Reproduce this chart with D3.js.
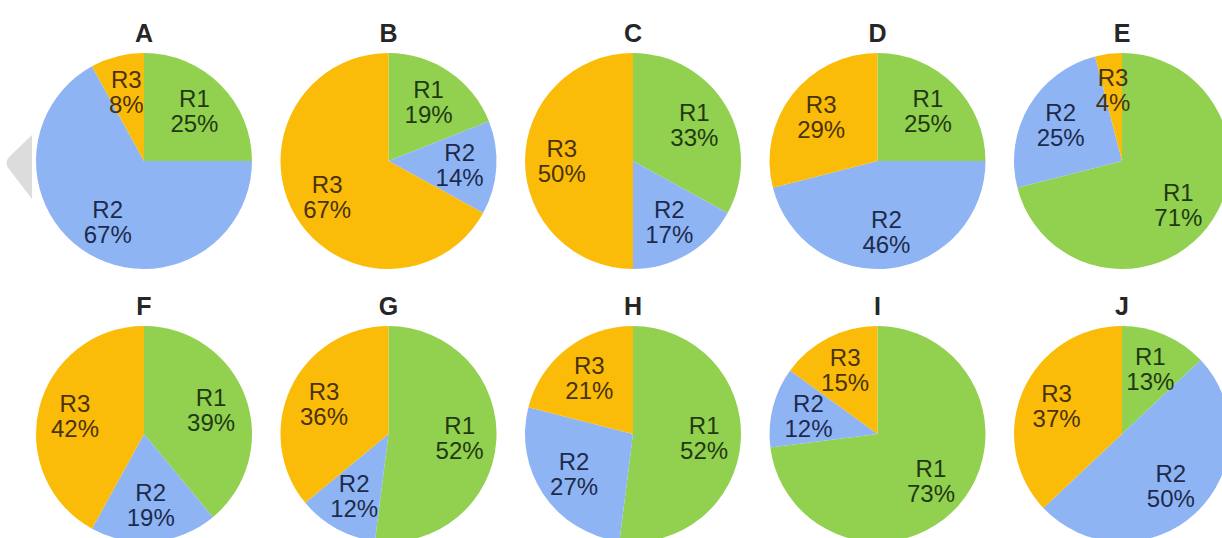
<!DOCTYPE html>
<html>
<head>
<meta charset="utf-8">
<script src="https://cdn.jsdelivr.net/npm/d3@7"></script>
<style>
  body { margin: 0; background: #fff; }
  svg { display: block; }
</style>
</head>
<body>
<svg id="chart"></svg>
<script>
// data
const panels = ["A", "B", "C", "D", "E", "F", "G", "H", "I", "J"];
const regions = ["R1", "R2", "R3"];
const r1 = [25, 19, 33, 25, 71, 39, 52, 52, 73, 13];
const r2 = [67, 14, 17, 46, 25, 19, 12, 27, 12, 50];
const r3 = [8, 67, 50, 29, 4, 42, 36, 21, 15, 37];

const width = 1222;
const height = 538;
const radius = 108;

const fillColor = d3.scaleOrdinal().domain(regions).range(["#92d050", "#8fb4f4", "#fbbc09"]);
const textColor = d3.scaleOrdinal().domain(regions).range(["#1f3a12", "#1c2b4c", "#4a320a"]);

const svg = d3.select("#chart").attr("width", width).attr("height", height);

// column and row placement
const x = d3.scalePoint().domain(d3.range(5)).range([144, 1122]);
const y = d3.scalePoint().domain(d3.range(2)).range([161, 434]);

const pie = d3.pie().sort(null).value((d) => d.value);
const arc = d3.arc().innerRadius(0).outerRadius(radius);
const labelArc = d3.arc().innerRadius(radius * 0.66).outerRadius(radius * 0.66);

panels.forEach((name, i) => {
  const values = [r1[i], r2[i], r3[i]].map((v, k) => ({ region: regions[k], value: v }));
  const g = svg
    .append("g")
    .attr("transform", `translate(${x(i % 5)},${y(Math.floor(i / 5))})`);

  g.append("text")
    .text(name)
    .attr("y", -radius - 11)
    .attr("text-anchor", "middle")
    .attr("font-family", "Liberation Sans, Arial, sans-serif")
    .attr("font-weight", "bold")
    .attr("font-size", 25)
    .attr("fill", "#262626");

  const slices = pie(values);
  g.selectAll("path")
    .data(slices)
    .join("path")
    .attr("d", arc)
    .attr("fill", (d) => fillColor(d.data.region));

  // two-line label: region name over percentage
  const label = g
    .selectAll(".lbl")
    .data(slices)
    .join("g")
    .attr("class", "lbl")
    .attr("transform", (d) => `translate(${labelArc.centroid(d)})`)
    .attr("text-anchor", "middle")
    .attr("font-family", "Liberation Sans, Arial, sans-serif")
    .attr("font-size", 24)
    .attr("fill", (d) => textColor(d.data.region));
  label.append("text").attr("y", -4).text((d) => d.data.region);
  label.append("text").attr("y", 21).text((d) => d.data.value + "%");
});

// grey arrow overlay on the left edge
svg
  .append("path")
  .attr("d", "M32,135 L9,157 Q4,163 9,169 L32,199 Z")
  .attr("fill", "#dcdcdc");
</script>
</body>
</html>
